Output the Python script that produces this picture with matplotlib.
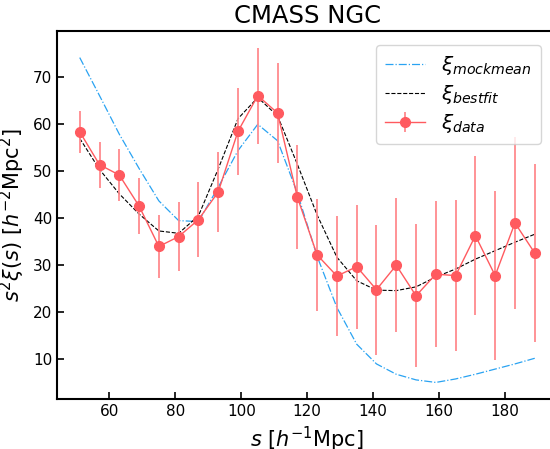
import matplotlib
matplotlib.use('Agg')
import matplotlib.pyplot as plt
import numpy as np

# separation bins
s = np.arange(51, 190, 6)

# measured correlation function and errors
xi_data = [58.3, 51.3, 49.1, 42.5, 33.9, 36.0, 39.6, 45.5, 58.4, 66.0, 62.3, 44.4,
           32.1, 27.6, 29.6, 24.7, 29.9, 23.4, 28.0, 27.7, 36.2, 27.7, 38.9, 32.5]
xi_err = [4.5, 4.9, 5.5, 6.0, 6.8, 7.3, 8.0, 8.5, 9.2, 10.2, 10.6, 11.1,
          12.0, 12.7, 13.2, 13.8, 14.3, 15.2, 15.6, 16.1, 16.9, 18.0, 18.4, 19.0]

# best fit model
xi_bestfit = [56.9, 50.3, 45.1, 40.8, 37.2, 36.7, 40.4, 50.4, 61.1, 65.6, 61.7, 51.4,
              40.6, 31.6, 26.6, 24.6, 24.5, 25.3, 27.4, 29.1, 31.2, 33.0, 34.8, 36.5]

# mean of mocks
xi_mockmean = [74.1, 66.0, 57.8, 50.5, 43.6, 39.4, 39.2, 46.5, 54.3, 59.9, 56.4, 45.3,
               31.8, 20.9, 13.1, 8.9, 6.7, 5.5, 4.96, 5.7, 6.7, 7.8, 8.9, 10.1]

fig = plt.figure(figsize=(5.5, 4.49), dpi=100)
ax = fig.add_axes([0.1036, 0.111, 0.91, 0.820])

red = '#ff5a5f'
ax.plot(s, xi_mockmean, '-.', color='#2aa3f2', lw=0.9, label=r'$\xi_{mockmean}$')
ax.plot(s, xi_bestfit, '--', color='black', lw=0.8, label=r'$\xi_{bestfit}$')
ax.errorbar(s, xi_data, yerr=xi_err, fmt='-o', color=red, lw=1.0, ms=7,
            ecolor='#ff8a8d', elinewidth=1.3, label=r'$\xi_{data}$')

ax.set_title('CMASS NGC', fontsize=17.5)
ax.set_xlabel(r'$s$ [$h^{-1}$Mpc]', fontsize=15)
ax.set_ylabel(r'$s^2\xi(s)$ [$h^{-2}$Mpc$^2$]', fontsize=15)
ax.tick_params(direction='in', labelsize=11, width=1.2, length=5)
for sp in ax.spines.values():
    sp.set_linewidth(1.5)

ax.legend(loc='upper right', bbox_to_anchor=(0.9865, 0.99), fontsize=14.5,
          handlelength=2.0, borderpad=0.45, labelspacing=0.3)

fig.savefig('out.png', dpi=100)
